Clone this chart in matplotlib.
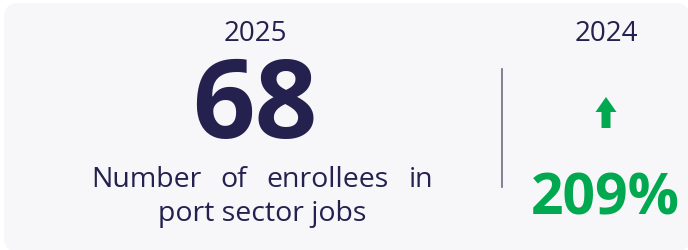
import matplotlib
matplotlib.use("Agg")
import matplotlib.pyplot as plt
from matplotlib.patches import FancyBboxPatch, FancyArrow

# Data
current_year = "2025"
current_value = 68
label_words_line1 = ["Number", "of", "enrollees", "in"]
label_line2 = "port sector jobs"
previous_year = "2024"
change_pct = 209

NAVY = "#24214f"
GREEN = "#00a84f"
BG = "#f7f7fa"
FONT = "Open Sans"

W, H = 688, 251
fig = plt.figure(figsize=(W / 100, H / 100), dpi=100)
fig.patch.set_facecolor("white")
ax = fig.add_axes([0, 0, 1, 1])
ax.set_xlim(0, W)
ax.set_ylim(H, 0)
ax.axis("off")

card = FancyBboxPatch((4, 4), 686, 249, boxstyle="round,pad=0,rounding_size=15",
                      facecolor=BG, edgecolor="none")
ax.add_patch(card)

ax.text(255, 41, current_year, ha="center", va="baseline", fontsize=20, color=NAVY, family=FONT)
ax.text(255, 138, f"{current_value}", ha="center", va="baseline", fontsize=79, color=NAVY,
        family=FONT, weight="bold")

# Justified first line
fig.canvas.draw()
renderer = fig.canvas.get_renderer()
left, right, y1 = 91, 433, 187
texts = [ax.text(0, y1, w, ha="left", va="baseline", fontsize=20.5, color=NAVY, family=FONT)
         for w in label_words_line1]
inv = ax.transData.inverted()
widths = []
for t in texts:
    bb = t.get_window_extent(renderer)
    p0 = inv.transform((bb.x0, bb.y0))
    p1 = inv.transform((bb.x1, bb.y0))
    widths.append(p1[0] - p0[0])
gap = (right - left - sum(widths)) / (len(texts) - 1)
x = left
for t, w in zip(texts, widths):
    t.set_x(x)
    x += w + gap

ax.text(262, 221, label_line2, ha="center", va="baseline", fontsize=20.5, color=NAVY, family=FONT)

# Divider
ax.plot([502, 502], [70, 188], color="#6e6a85", lw=1.2)

ax.text(606, 41, previous_year, ha="center", va="baseline", fontsize=20, color=NAVY, family=FONT)

# Up arrow
arrow = FancyArrow(606, 129, 0, -31, width=9, head_width=21, head_length=15,
                   length_includes_head=True, color=GREEN, lw=0)
ax.add_patch(arrow)

ax.text(605, 215, f"{change_pct}%", ha="center", va="baseline", fontsize=41, color=GREEN,
        family=FONT, weight="bold")

fig.savefig("out.png", dpi=100, facecolor="white")
